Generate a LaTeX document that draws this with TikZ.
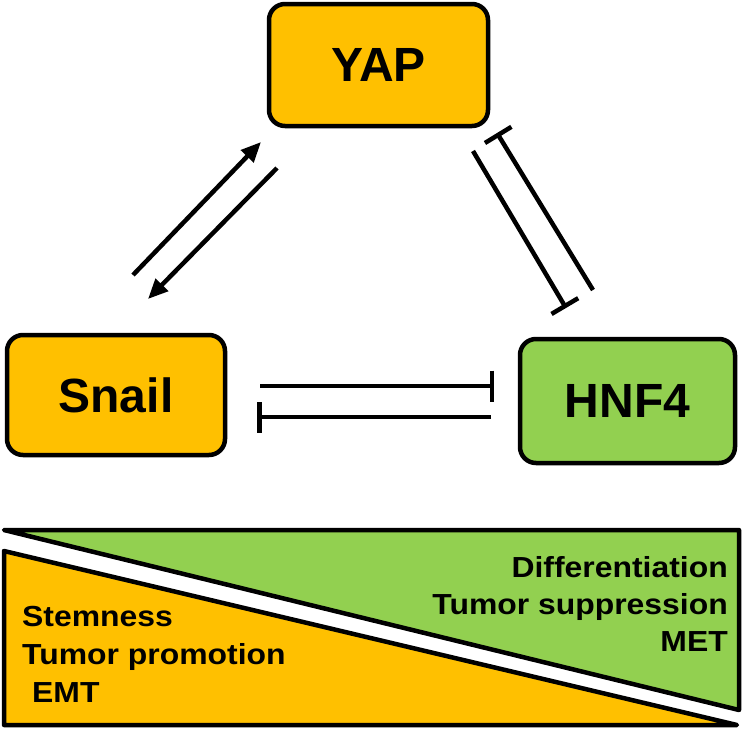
\documentclass[tikz,border=0pt]{standalone}
\usepackage{fontspec}
\setmainfont{Liberation Sans}
\newfontfamily\widefont{Liberation Sans}[FakeStretch=1.1]
\usetikzlibrary{arrows.meta}
\definecolor{gold}{HTML}{FFC000}
\definecolor{leaf}{HTML}{92D050}
\tikzset{
  genebox/.style={draw=black, line width=4.5pt, rounded corners=16pt, font=\bfseries\fontsize{48}{48}\selectfont, inner sep=0pt},
  act/.style={line width=4.5pt, -{Triangle[length=20pt,width=17pt]}},
  inh/.style={line width=4.5pt, -{Bar[width=31pt]}},
  wedge/.style={draw=black, line width=4.5pt, line join=round},
  fate/.style={font=\widefont\bfseries\fontsize{29}{33}\selectfont, inner sep=0pt}
}
\begin{document}
\begin{tikzpicture}[x=1pt,y=-1pt]
\useasboundingbox (0,0) rectangle (744,731);
% boxes
\node[genebox, fill=gold, minimum width=219pt, minimum height=122pt] (yap) at (378.5,65) {YAP};
\node[genebox, fill=gold, minimum width=218pt, minimum height=120pt] (snail) at (116,395) {Snail};
\node[genebox, fill=leaf, minimum width=215pt, minimum height=124pt] (hnf) at (627.5,401) {HNF4};
% connector end points
\coordinate (su1) at (133,275);
\coordinate (su2) at (261,142);
\coordinate (sd1) at (277,168);
\coordinate (sd2) at (148,299);
\coordinate (ha1) at (593,290);
\coordinate (ha2) at (497,133);
\coordinate (hb1) at (473,151);
\coordinate (hb2) at (566,308);
\coordinate (sh1) at (260,386);
\coordinate (sh2) at (494,386);
\coordinate (hs1) at (491,417);
\coordinate (hs2) at (257,417);
\draw[act] (su1) -- (su2);
\draw[act] (sd1) -- (sd2);
\draw[inh] (ha1) -- (ha2);
\draw[inh] (hb1) -- (hb2);
\draw[inh] (sh1) -- (sh2);
\draw[inh] (hs1) -- (hs2);
% bottom wedges
\filldraw[wedge, fill=leaf] (4,530) -- (739,530) -- (739,710) -- cycle;
\filldraw[wedge, fill=gold] (4,551) -- (737,725) -- (4,725) -- cycle;
% texts
\node[fate, anchor=base east] (t1) at (728,577) {Differentiation};
\node[fate, anchor=base east] (t2) at (728,614) {Tumor suppression};
\node[fate, anchor=base east] (t3) at (728,651) {MET};
\node[fate, anchor=base west] (t4) at (22,626) {Stemness};
\node[fate, anchor=base west] (t5) at (22,664) {Tumor promotion};
\node[fate, anchor=base west] (t6) at (32,702) {EMT};
\end{tikzpicture}
\end{document}
